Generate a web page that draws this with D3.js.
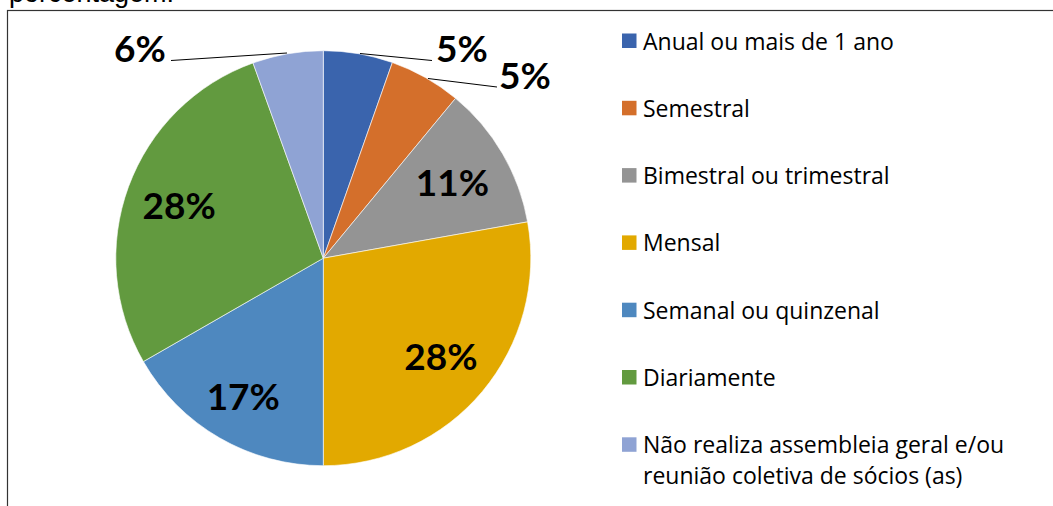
<!DOCTYPE html>
<html>
<head>
<meta charset="utf-8">
<script src="https://cdn.jsdelivr.net/npm/d3@7"></script>
<style>
  body { margin: 0; background: #fff; }
  svg { display: block; }
</style>
</head>
<body>
<div id="chart"></div>
<script>
// Categories, in clockwise order starting at 12 o'clock
const categories = [
    "Anual ou mais de 1 ano",
    "Semestral",
    "Bimestral ou trimestral",
    "Mensal",
    "Semanal ou quinzenal",
    "Diariamente",
    "Não realiza assembleia geral e/ou reunião coletiva de sócios (as)"
];

// Share of each category (percent)
const values = [5.4, 5.6, 11.2, 27.8, 16.7, 27.8, 5.5];

// Percentage labels as printed on the chart
const labels = ["5%", "5%", "11%", "28%", "17%", "28%", "6%"];

const colors = ["#3A64AD", "#D46F2B", "#949494", "#E2A900", "#4E88BF", "#629A3F", "#8FA3D4"];

// legend lines (last item wraps over two lines)
const legendLines = [
    ["Anual ou mais de 1 ano"],
    ["Semestral"],
    ["Bimestral ou trimestral"],
    ["Mensal"],
    ["Semanal ou quinzenal"],
    ["Diariamente"],
    ["Não realiza assembleia geral e/ou", "reunião coletiva de sócios (as)"]
];

const width = 1053, height = 506;
const cx = 323.3, cy = 258.2, radius = 207.5;

const svg = d3.select("#chart").append("svg")
    .attr("width", width)
    .attr("height", height);

// cut-off caption above the frame
svg.append("text")
    .attr("x", 9)
    .attr("y", 2)
    .attr("font-family", "Liberation Sans, Arial, sans-serif")
    .attr("font-size", "27px")
    .attr("fill", "#000")
    .text("porcentagem.");

// chart frame (runs off the right and bottom edges)
svg.append("rect")
    .attr("x", 7.5)
    .attr("y", 10.5)
    .attr("width", width + 10)
    .attr("height", height + 10)
    .attr("fill", "none")
    .attr("stroke", "#333")
    .attr("stroke-width", 1.2);

const data = categories.map((c, i) => ({ category: c, value: values[i], label: labels[i], color: colors[i] }));

const pie = d3.pie()
    .value(d => d.value)
    .sort(null);

const arc = d3.arc()
    .innerRadius(0)
    .outerRadius(radius);

const arcs = pie(data);

const g = svg.append("g")
    .attr("transform", `translate(${cx}, ${cy})`);

g.selectAll("path")
    .data(arcs)
    .enter().append("path")
    .attr("d", arc)
    .attr("fill", d => d.data.color)
    .attr("stroke", "#fff")
    .attr("stroke-width", 0.6);

// Labels inside the big slices, outside (with leader lines) for the small ones
const labelFont = "Lato, 'Open Sans', sans-serif";
const insideRadius = {2: 0.72, 3: 0.74, 4: 0.77, 5: 0.74};
const outside = {
    0: { text: [462, 62], line: [[360, 53.5], [432, 60.5]] },
    1: { text: [525, 89], line: [[428, 78.5], [497, 87]] },
    6: { text: [140, 62], line: [[171, 60.5], [287, 53]] }
};

arcs.forEach((a, i) => {
    let x, y;
    if (outside[i]) {
        x = outside[i].text[0];
        y = outside[i].text[1];
        g.append("path")
            .attr("d", d3.line()(outside[i].line.map(p => [p[0] - cx, p[1] - cy])))
            .attr("fill", "none")
            .attr("stroke", "#000")
            .attr("stroke-width", 1);
        g.append("text")
            .attr("x", x - cx)
            .attr("y", y - cy)
            .attr("text-anchor", "middle")
            .attr("font-family", labelFont)
            .attr("font-weight", "bold")
            .attr("font-size", "37px")
            .attr("fill", "#000")
            .text(a.data.label);
    } else {
        const mid = (a.startAngle + a.endAngle) / 2;
        const r = radius * insideRadius[i];
        x = Math.sin(mid) * r;
        y = -Math.cos(mid) * r;
        g.append("text")
            .attr("x", x)
            .attr("y", y)
            .attr("dy", "0.36em")
            .attr("text-anchor", "middle")
            .attr("font-family", labelFont)
            .attr("font-weight", "bold")
            .attr("font-size", "37px")
            .attr("fill", "#000")
            .text(a.data.label);
    }
});

// Legend
const legend = svg.append("g").attr("class", "legend");
const legendTop = 49.5, legendStep = 67.3;

const items = legend.selectAll(".legend-item")
    .data(data)
    .enter().append("g")
    .attr("class", "legend-item")
    .attr("transform", (d, i) => `translate(622, ${legendTop + i * legendStep})`);

items.append("rect")
    .attr("x", 0)
    .attr("y", -16)
    .attr("width", 14.5)
    .attr("height", 14.5)
    .attr("fill", d => d.color);

items.each(function(d, i) {
    const t = d3.select(this).append("text")
        .attr("font-family", "'Open Sans', Lato, sans-serif")
        .attr("font-size", "23px")
        .attr("fill", "#000");
    legendLines[i].forEach((line, j) => {
        t.append("tspan")
            .attr("x", 21)
            .attr("y", j * 31)
            .text(line);
    });
});
</script>
</body>
</html>
